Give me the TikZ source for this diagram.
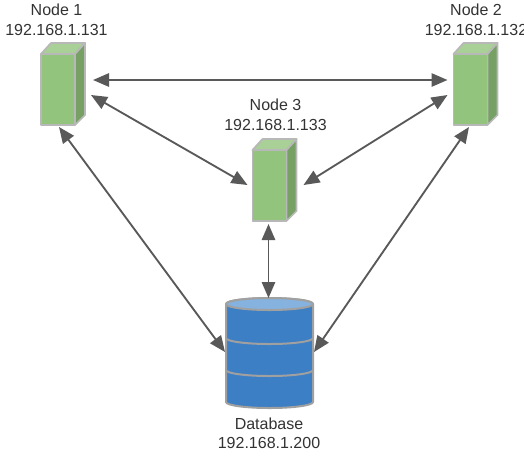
\documentclass[tikz,border=0pt]{standalone}
\usepackage{fontspec}
\setmainfont{Liberation Sans}
\usetikzlibrary{arrows.meta}
\definecolor{frontcol}{HTML}{93C47D}
\definecolor{topcol}{HTML}{A9D096}
\definecolor{sidecol}{HTML}{76A064}
\definecolor{edgecol}{HTML}{B8B8B8}
\definecolor{dbcol}{HTML}{3D7FC4}
\definecolor{dbtopcol}{HTML}{85B2DE}
\definecolor{dbedge}{HTML}{A0A0A0}
\definecolor{linkcol}{HTML}{595959}
\tikzset{
  server/.style={minimum width=33pt,minimum height=61.5pt,inner sep=0pt,outer sep=0pt},
  database/.style={minimum width=65.25pt,minimum height=82.5pt,inner sep=0pt,outer sep=0pt},
  face/.style={draw=edgecol,line width=1.3pt,line join=round},
  dbface/.style={draw=dbedge,line width=1.5pt,line join=round},
  caption/.style={align=center,inner sep=0pt,font=\fontsize{12}{14.6}\selectfont,text=black!80},
  link/.style={{Triangle[length=12pt,width=10pt]}-{Triangle[length=12pt,width=10pt]},draw=linkcol,fill=linkcol,line width=1.4pt}
}
\begin{document}
\begin{tikzpicture}[x=0.75pt,y=-0.75pt]
  \useasboundingbox (0,0) rectangle (524,455);
  \node[server] (node1) at (63,84) {};
  \node[server] (node2) at (475.5,84) {};
  \node[server] (node3) at (274.5,180) {};
  \node[database] (db) at (269.5,353) {};
  \foreach \n in {node1,node2,node3} {
    \draw[face,fill=topcol] ([shift={(0,11)}]\n.north west) -- ([shift={(10,0)}]\n.north west)
      -- (\n.north east) -- ([shift={(-10,11)}]\n.north east) -- cycle;
    \draw[face,fill=sidecol] ([shift={(-10,11)}]\n.north east) -- (\n.north east)
      -- ([shift={(0,-10)}]\n.south east) -- ([shift={(-10,0)}]\n.south east) -- cycle;
    \draw[face,fill=frontcol] ([shift={(0,11)}]\n.north west) rectangle ([shift={(-10,0)}]\n.south east);
  }
  \draw[dbface,fill=dbcol] ([shift={(0,6)}]db.north west) -- ([shift={(0,-6)}]db.south west)
    arc[start angle=180,end angle=360,x radius=32.625pt,y radius=4.5pt]
    -- ([shift={(0,6)}]db.north east)
    arc[start angle=0,end angle=180,x radius=32.625pt,y radius=4.5pt] -- cycle;
  \draw[dbface,fill=dbtopcol] ([shift={(0,6)}]db.north west)
    arc[start angle=180,end angle=540,x radius=32.625pt,y radius=4.5pt];
  \draw[dbface] ([shift={(0,40)}]db.north west)
    arc[start angle=180,end angle=360,x radius=32.625pt,y radius=4.5pt];
  \draw[dbface] ([shift={(0,72)}]db.north west)
    arc[start angle=180,end angle=360,x radius=32.625pt,y radius=4.5pt];
  \node[caption] (label1) at (56.5,20) {Node 1\\192.168.1.131};
  \node[caption] (label2) at (476,20) {Node 2\\192.168.1.132};
  \node[caption] (label3) at (275.5,115) {Node 3\\192.168.1.133};
  \node[caption] (labeldb) at (269,433.5) {Database\\192.168.1.200};
  \draw[link] ([shift={(8,-4)}]node1.east) -- ([shift={(-6,-4)}]node2.west);
  \draw[link] ([shift={(6,11)}]node1.east) -- ([shift={(-5,5)}]node3.west);
  \draw[link] ([shift={(-6,11)}]node2.west) -- ([shift={(7,5)}]node3.east);
  \draw[link] ([shift={(-6,3)}]node3.south) -- ([shift={(-1,0)}]db.north);
  \draw[link] ([shift={(-4,2)}]node1.south) -- ([shift={(-1,-1)}]db.west);
  \draw[link] ([shift={(-6.5,2)}]node2.south) -- ([shift={(1,-1)}]db.east);
\end{tikzpicture}
\end{document}
